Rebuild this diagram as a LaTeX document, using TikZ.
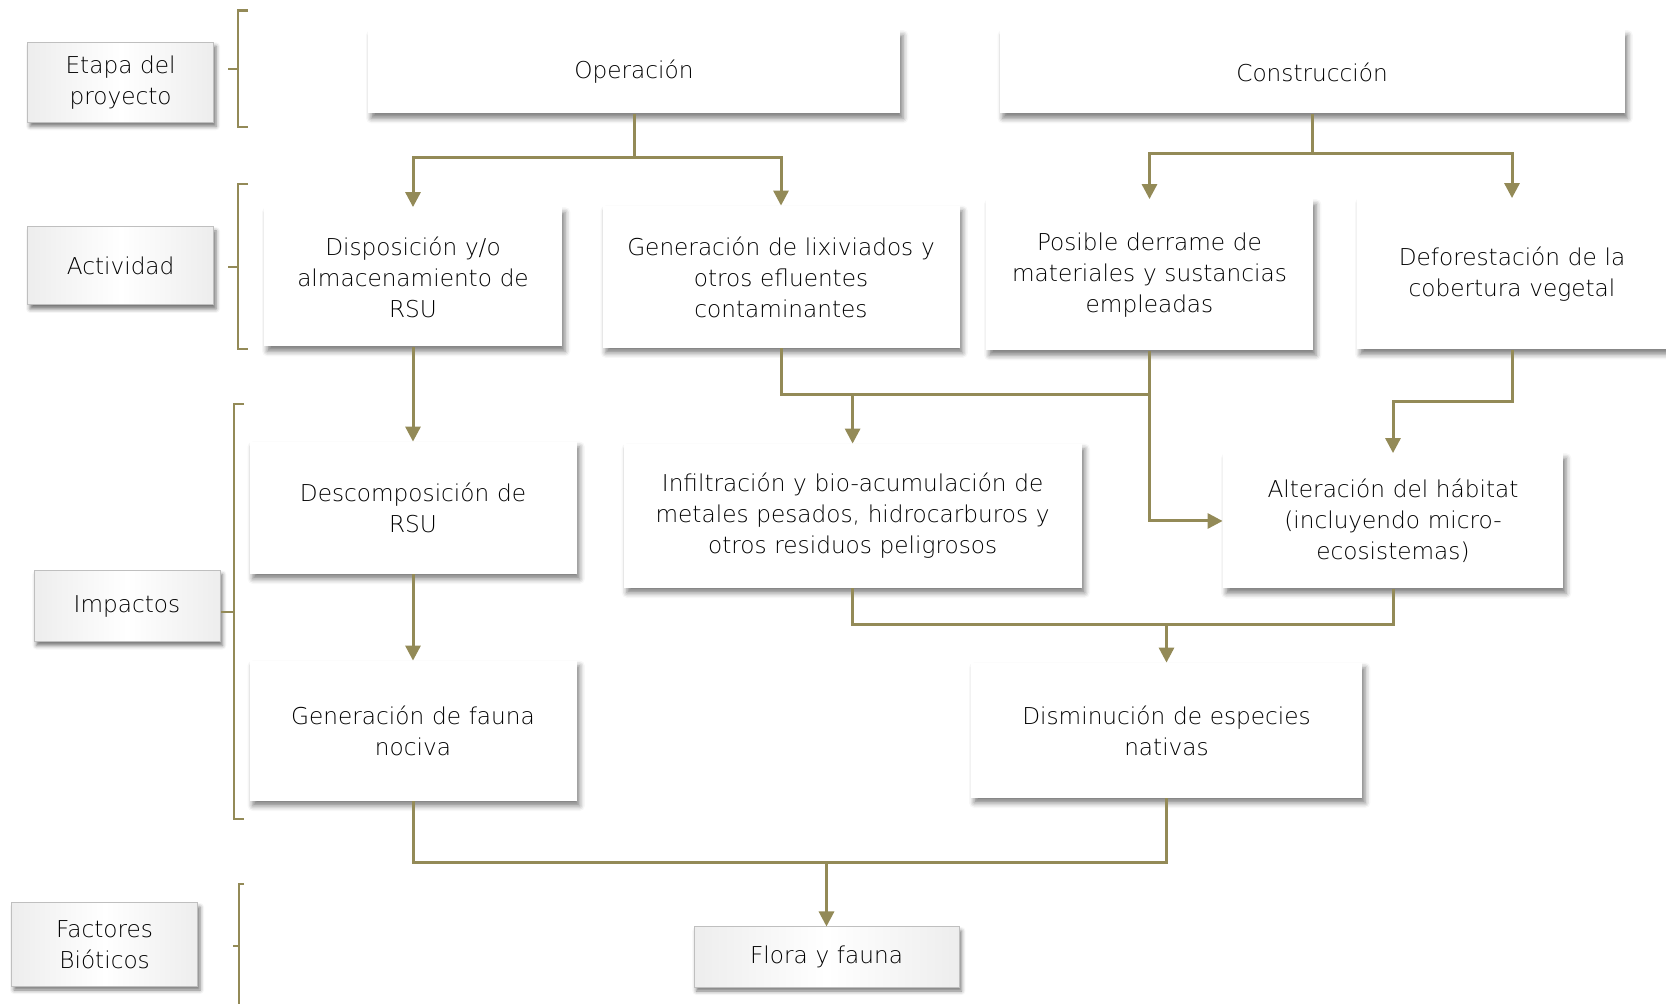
\documentclass[tikz,border=0pt]{standalone}
\usepackage{fontspec}
\IfFontExistsTF{DejaVu Sans ExtraLight}
  {\setmainfont{DejaVu Sans ExtraLight}}
  {\setmainfont{DejaVu Sans}}
\usetikzlibrary{arrows.meta,shadows.blur}
\definecolor{olive}{HTML}{938A57}
\definecolor{txt}{HTML}{000000}
\begin{document}
\begin{tikzpicture}[x=0.5pt,y=-0.5pt,
  font=\fontsize{11.6pt}{15.5pt}\selectfont, text=txt,
  mbox/.style 2 args={fill=white, draw=none, align=center,
    minimum width=#1*0.5pt, minimum height=#2*0.5pt,
    text width=#1*0.5pt-8pt, inner sep=0pt,
    blur shadow={shadow xshift=1.6pt, shadow yshift=-2.4pt,
      shadow blur radius=2.6pt, shadow opacity=50}},
  lbox/.style 2 args={draw=gray!50, line width=0.5pt, align=center,
    left color=gray!14, right color=gray!14, middle color=white,
    minimum width=#1*0.5pt, minimum height=#2*0.5pt,
    text width=#1*0.5pt-8pt, inner sep=0pt,
    blur shadow={shadow xshift=1.2pt, shadow yshift=-2pt,
      shadow blur radius=2pt, shadow opacity=55}},
  line/.style={draw=olive, line width=1.5pt},
  arr/.style={line, -{Triangle[length=7.5pt,width=7.5pt]}},
  brk/.style={draw=olive, line width=1.3pt}
]
\useasboundingbox (0,0) rectangle (1666,1004);

% stage labels on the left
\node[lbox={186}{80}] (etapa) at (120.6,82.3) {Etapa del\\proyecto};
\node[lbox={186}{78}] (act) at (120.6,266) {Actividad};
\node[lbox={186}{71}] (imp) at (127,606) {Impactos};
\node[lbox={186}{83}] (fac) at (104.6,944.5) {Factores\\Bióticos};

% brackets grouping each level
\draw[brk] (248,10.6) -- (238,10.6) -- (238,127) -- (248,127);
\draw[brk] (228,69) -- (238,69);
\draw[brk] (248,184) -- (238,184) -- (238,349) -- (248,349);
\draw[brk] (228,267) -- (238,267);
\draw[brk] (244,404) -- (234,404) -- (234,819) -- (244,819);
\draw[brk] (221,612) -- (234,612);
\draw[brk] (244,884) -- (239,884) -- (239,1010);
\draw[brk] (233,946) -- (239,946);

% project stages
\node[mbox={532}{83}] (op) at (634,72) {Operación};
\node[mbox={625}{83}] (con) at (1312,72) {Construcción};

% activities
\node[mbox={298}{139}] (disp) at (413,277) {Disposición y/o\\almacenamiento de\\RSU};
\node[mbox={357}{142}] (lix) at (781,277) {Generación de lixiviados y\\otros efluentes\\contaminantes};
\node[mbox={327}{151}] (der) at (1149.5,275) {Posible derrame de\\materiales y sustancias\\empleadas};
\node[mbox={310}{151}] (def) at (1512,274) {Deforestación de la\\cobertura vegetal};

% impacts
\node[mbox={327}{132}] (desc) at (413,508) {Descomposición de\\RSU};
\node[mbox={458}{144}] (inf) at (852.6,516) {Infiltración y bio-acumulación de\\metales pesados, hidrocarburos y\\otros residuos peligrosos};
\node[mbox={340}{135}] (alt) at (1393,521) {Alteración del hábitat\\(incluyendo micro-\\ecosistemas)};
\node[mbox={327}{140}] (fau) at (413,731) {Generación de fauna\\nociva};
\node[mbox={391}{135}] (dis) at (1166.5,730.5) {Disminución de especies\\nativas};

% biotic factors
\node[lbox={265}{60}] (flo) at (826.5,957) {Flora y fauna};

% junction points
\coordinate (jop) at (634,158);
\coordinate (jcon) at (1312,154);
\coordinate (jinf) at (852.6,395);
\coordinate (jdis) at (1166.5,624.7);
\coordinate (jflo) at (826.5,862.8);

% connectors
\draw[line] (op.south) -- (jop);
\draw[arr] (jop) -| (disp.north);
\draw[arr] (jop) -| (lix.north);
\draw[line] (con.south) -- (jcon);
\draw[arr] (jcon) -| (der.north);
\draw[arr] (jcon) -| (def.north);

\draw[arr] (disp.south) -- (desc.north);
\draw[arr] (desc.south) -- (fau.north);

\draw[line] (lix.south) |- (der.south |- jinf);
\draw[arr] (jinf) -- (inf.north);
\draw[arr] (der.south) |- (alt.west);
\draw[arr] (def.south) -- ++(0,52) -| (alt.north);

\draw[line] (inf.south) |- (jdis) -| (alt.south);
\draw[arr] (jdis) -- (dis.north);

\draw[line] (fau.south) |- (jflo) -| (dis.south);
\draw[arr] (jflo) -- (flo.north);
\end{tikzpicture}
\end{document}
